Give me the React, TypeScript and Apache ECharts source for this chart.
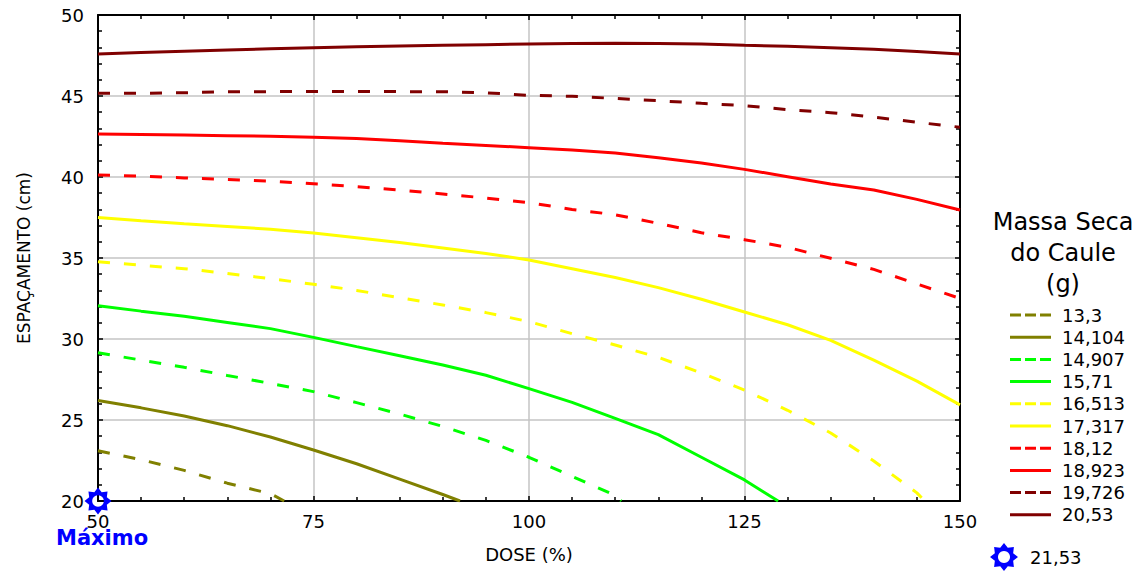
import React, { useEffect, useRef } from "react";
import * as echarts from "echarts";

// ---- data ----
const levelNames = ["13,3", "14,104", "14,907", "15,71", "16,513", "17,317", "18,12", "18,923", "19,726", "20,53"];
const levelColors = ["#808000", "#808000", "#00ff00", "#00ff00", "#ffff00", "#ffff00", "#ff0000", "#ff0000", "#800000", "#800000"];
const levelDashed = [true, false, true, false, true, false, true, false, true, false];

const c13_3 = [[50, 23.1], [55, 22.55], [60, 21.89], [65, 21.1], [70, 20.45], [71.6, 20]];
const c14_104 = [[50, 26.2], [55, 25.75], [60, 25.25], [65, 24.65], [70, 23.95], [75, 23.15], [80, 22.3], [85, 21.35], [90, 20.4], [92, 20]];
const c14_907 = [[50, 29.15], [55, 28.7], [60, 28.25], [65, 27.75], [70, 27.26], [75, 26.75], [80, 26.07], [85, 25.37], [90, 24.6], [95, 23.74], [100, 22.7], [105, 21.52], [110, 20.35], [110.7, 20]];
const c15_71 = [[50, 32.05], [55, 31.72], [60, 31.4], [65, 31.02], [70, 30.64], [75, 30.1], [80, 29.53], [85, 28.97], [90, 28.4], [95, 27.76], [100, 26.94], [105, 26.09], [110, 25.1], [115, 24.1], [120, 22.7], [125, 21.3], [128.9, 20]];
const c16_513 = [[50, 34.77], [55, 34.55], [60, 34.34], [65, 34.05], [70, 33.72], [75, 33.38], [80, 33.0], [85, 32.55], [90, 32.1], [95, 31.63], [100, 31.07], [105, 30.33], [110, 29.63], [115, 28.87], [120, 27.9], [125, 26.85], [130, 25.6], [135, 24.2], [140, 22.47], [145, 20.5], [145.9, 20]];
const c17_317 = [[50, 37.5], [55, 37.3], [60, 37.12], [65, 36.95], [70, 36.77], [75, 36.54], [80, 36.25], [85, 35.95], [90, 35.62], [95, 35.28], [100, 34.88], [105, 34.34], [110, 33.8], [115, 33.17], [120, 32.45], [125, 31.67], [130, 30.88], [135, 29.92], [140, 28.7], [145, 27.4], [150, 25.93]];
const c18_12 = [[50, 40.12], [55, 40.06], [60, 39.94], [65, 39.85], [70, 39.75], [75, 39.58], [80, 39.4], [85, 39.2], [90, 38.95], [95, 38.7], [100, 38.41], [105, 38.0], [110, 37.67], [115, 37.14], [120, 36.56], [125, 36.13], [130, 35.66], [135, 34.98], [140, 34.3], [145, 33.4], [150, 32.5]];
const c18_923 = [[50, 42.65], [55, 42.62], [60, 42.59], [65, 42.55], [70, 42.51], [75, 42.45], [80, 42.37], [85, 42.24], [90, 42.08], [95, 41.95], [100, 41.81], [105, 41.66], [110, 41.48], [115, 41.19], [120, 40.86], [125, 40.47], [130, 40.02], [135, 39.57], [140, 39.2], [145, 38.62], [150, 37.96]];
const c19_726 = [[50, 45.17], [55, 45.17], [60, 45.2], [65, 45.27], [70, 45.27], [75, 45.28], [80, 45.28], [85, 45.27], [90, 45.27], [95, 45.2], [100, 45.04], [105, 44.98], [110, 44.85], [115, 44.71], [120, 44.55], [125, 44.4], [130, 44.16], [135, 43.97], [140, 43.7], [145, 43.38], [150, 43.07]];
const c20_53 = [[50, 47.6], [55, 47.68], [60, 47.76], [65, 47.84], [70, 47.92], [75, 47.98], [80, 48.04], [85, 48.09], [90, 48.13], [95, 48.17], [100, 48.21], [105, 48.24], [110, 48.25], [115, 48.24], [120, 48.21], [125, 48.13], [130, 48.07], [135, 47.98], [140, 47.88], [145, 47.75], [150, 47.6]];
const contours = [c13_3, c14_104, c14_907, c15_71, c16_513, c17_317, c18_12, c18_923, c19_726, c20_53];

const maxName = "21,53";
const maxPoint = [[50, 20]];
const maxLabel = "Máximo";

const xTitle = "DOSE (%)";
const yTitle = "ESPAÇAMENTO (cm)";
const legendTitle = "Massa Seca\ndo Caule\n(g)";

// legend line icons (filled bars so the dashes show)
const ICON_SOLID = "path://M0 0h41v3H0z";
const ICON_DASHED = "path://M0 0h11v3H0z M15 0h11v3H15z M30 0h11v3H30z";

// 8-point sun marker with a hole (opposite winding)
function sunPath(): string {
  const c = 13;
  const pts: string[] = [];
  for (let k = 0; k < 16; k++) {
    const a = (k * Math.PI) / 8 - Math.PI / 2;
    const r = k % 2 === 0 ? 13 : 9.2;
    pts.push(`${(c + r * Math.cos(a)).toFixed(2)} ${(c + r * Math.sin(a)).toFixed(2)}`);
  }
  const hole: string[] = [];
  for (let k = 0; k < 24; k++) {
    const a = -(k * Math.PI * 2) / 24;
    hole.push(`${(c + 5.6 * Math.cos(a)).toFixed(2)} ${(c + 5.6 * Math.sin(a)).toFixed(2)}`);
  }
  return `path://M${pts.join(" L")} Z M${hole.join(" L")} Z`;
}

const FONT = "DejaVu Sans";

export default function App() {
  const ref = useRef<HTMLDivElement>(null);
  useEffect(() => {
    if (!ref.current) return;
    const chart = echarts.init(ref.current, undefined, { renderer: "svg" });
    const sun = sunPath();
    const lineSeries = contours.map((pts, i) => ({
      type: "line",
      name: levelNames[i],
      data: pts,
      showSymbol: false,
      symbol: "none",
      clip: true,
      lineStyle: {
        color: levelColors[i],
        width: 3,
        type: levelDashed[i] ? [12, 14] : "solid",
      },
      itemStyle: { color: levelColors[i] },
      z: 3,
    }));
    const axisCommon = {
      type: "value",
      axisLine: { show: true, onZero: false, lineStyle: { color: "#000", width: 2 } },
      axisTick: { show: true, inside: true, length: 5, lineStyle: { color: "#000", width: 1.5 } },
      minorTick: { show: true, splitNumber: 5, length: 4, lineStyle: { color: "#000", width: 1.5 } },
    };
    chart.setOption({
      animation: false,
      backgroundColor: "#fff",
      grid: { left: 98, right: 186, top: 15, bottom: 70, containLabel: false },
      title: {
        text: legendTitle,
        left: 1063,
        top: 206,
        padding: 0,
        textAlign: "center",
        textStyle: { fontFamily: FONT, fontSize: 24, fontWeight: "normal", color: "#000", lineHeight: 31 },
      },
      xAxis: [
        {
          ...axisCommon,
          min: 50,
          max: 150,
          interval: 25,
          position: "bottom",
          name: xTitle,
          nameLocation: "middle",
          nameGap: 44,
          nameTextStyle: { fontFamily: FONT, fontSize: 18, color: "#000" },
          axisLabel: { fontFamily: FONT, fontSize: 18, color: "#000", margin: 11 },
          splitLine: { show: true, lineStyle: { color: "#c4c4c4", width: 1.5 } },
        },
        {
          ...axisCommon,
          min: 50,
          max: 150,
          interval: 25,
          position: "top",
          axisLabel: { show: false },
          splitLine: { show: false },
        },
      ],
      yAxis: [
        {
          ...axisCommon,
          min: 20,
          max: 50,
          interval: 5,
          position: "left",
          name: yTitle,
          nameLocation: "middle",
          nameGap: 66,
          nameTextStyle: { fontFamily: FONT, fontSize: 17, color: "#000" },
          axisLabel: { fontFamily: FONT, fontSize: 18, color: "#000", margin: 14 },
          splitLine: { show: true, lineStyle: { color: "#c4c4c4", width: 1.5 } },
        },
        {
          ...axisCommon,
          min: 20,
          max: 50,
          interval: 5,
          position: "right",
          axisLabel: { show: false },
          splitLine: { show: false },
        },
      ],
      legend: [
        {
          orient: "vertical",
          left: 1010,
          top: 304,
          padding: 0,
          itemWidth: 41,
          itemHeight: 12,
          itemGap: 0.2,
          data: levelNames.map((n, i) => ({
            name: n,
            icon: levelDashed[i] ? ICON_DASHED : ICON_SOLID,
            itemStyle: { color: levelColors[i] },
          })),
          textStyle: { fontFamily: FONT, fontSize: 18, color: "#000", lineHeight: 22, padding: [0, 0, 0, 6] },
          selectedMode: false,
        },
        {
          orient: "vertical",
          left: 990,
          top: 543,
          padding: 0,
          itemWidth: 28,
          itemHeight: 28,
          data: [{ name: maxName, icon: sun }],
          textStyle: { fontFamily: FONT, fontSize: 18, color: "#000", padding: [0, 0, 0, 7] },
          selectedMode: false,
        },
      ],
      series: [
        ...lineSeries,
        {
          type: "scatter",
          name: maxName,
          data: maxPoint,
          symbol: sun,
          symbolSize: 27,
          clip: false,
          itemStyle: { color: "#0000ff", opacity: 1 },
          z: 10,
        },
      ],
      graphic: [
        {
          type: "text",
          left: 56,
          top: 527,
          style: {
            text: maxLabel,
            fontFamily: FONT,
            fontSize: 21,
            fontWeight: "bold",
            fill: "#0000ff",
          },
          z: 20,
        },
      ],
    });
    return () => chart.dispose();
  }, []);
  return (
    <div
      ref={ref}
      style={{ position: "absolute", left: 0, top: 0, width: 1146, height: 571 }}
    />
  );
}
